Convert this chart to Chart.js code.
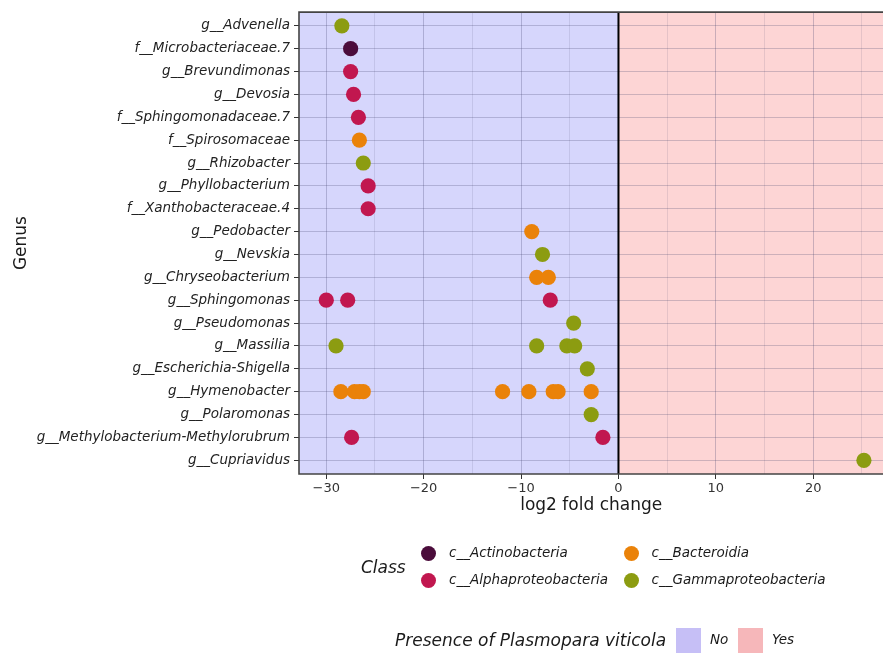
<!DOCTYPE html>
<html>
<head>
<meta charset="utf-8">
<script src="https://cdn.jsdelivr.net/npm/chart.js@4.4.1/dist/chart.umd.min.js"></script>
<style>
  html, body { margin: 0; padding: 0; background: #fff; overflow: hidden; }
  #wrap { position: relative; width: 883px; height: 653px; overflow: hidden; }
  #chart { position: absolute; left: 0; top: 0; }
  .lg { position: absolute; font-family: "DejaVu Sans", sans-serif; font-style: italic; color: #1a1a1a; white-space: nowrap; line-height: 1; }
  .dot { position: absolute; width: 15px; height: 15px; border-radius: 50%; }
  .key { position: absolute; width: 25px; height: 25px; }
</style>
</head>
<body>
<div id="wrap">
  <!-- the panel runs on past the right edge of the page -->
  <canvas id="chart" width="891" height="653"></canvas>
  <div id="legends"></div>
</div>
<script>
// Genera on the y axis, top to bottom
const genera = [
  'g__Advenella', 'f__Microbacteriaceae.7', 'g__Brevundimonas', 'g__Devosia',
  'f__Sphingomonadaceae.7', 'f__Spirosomaceae', 'g__Rhizobacter', 'g__Phyllobacterium',
  'f__Xanthobacteraceae.4', 'g__Pedobacter', 'g__Nevskia', 'g__Chryseobacterium',
  'g__Sphingomonas', 'g__Pseudomonas', 'g__Massilia', 'g__Escherichia-Shigella',
  'g__Hymenobacter', 'g__Polaromonas', 'g__Methylobacterium-Methylorubrum', 'g__Cupriavidus'
];

const classNames = ['c__Actinobacteria', 'c__Alphaproteobacteria', 'c__Bacteroidia', 'c__Gammaproteobacteria'];
const classColors = ['#4b0c3b', '#c1174f', '#ea8209', '#8c9c11'];

// Differentially abundant taxa: genus, log2 fold change, class
const pointGenus = [
  'g__Advenella', 'f__Microbacteriaceae.7', 'g__Brevundimonas', 'g__Devosia',
  'f__Sphingomonadaceae.7', 'f__Spirosomaceae', 'g__Rhizobacter', 'g__Phyllobacterium',
  'f__Xanthobacteraceae.4', 'g__Pedobacter', 'g__Nevskia',
  'g__Chryseobacterium', 'g__Chryseobacterium',
  'g__Sphingomonas', 'g__Sphingomonas', 'g__Sphingomonas',
  'g__Pseudomonas',
  'g__Massilia', 'g__Massilia', 'g__Massilia', 'g__Massilia',
  'g__Escherichia-Shigella',
  'g__Hymenobacter', 'g__Hymenobacter', 'g__Hymenobacter', 'g__Hymenobacter', 'g__Hymenobacter',
  'g__Hymenobacter', 'g__Hymenobacter', 'g__Hymenobacter', 'g__Hymenobacter',
  'g__Polaromonas',
  'g__Methylobacterium-Methylorubrum', 'g__Methylobacterium-Methylorubrum',
  'g__Cupriavidus'
];
const pointLfc = [
  -28.4, -27.5, -27.5, -27.2,
  -26.7, -26.6, -26.2, -25.7,
  -25.7, -8.9, -7.8,
  -8.4, -7.2,
  -30.0, -27.8, -7.0,
  -4.6,
  -29.0, -8.4, -5.3, -4.5,
  -3.2,
  -28.5, -27.1, -26.6, -26.2, -11.9,
  -9.2, -6.7, -6.2, -2.8,
  -2.8,
  -27.4, -1.6,
  25.2
];
const pointClass = [
  'c__Gammaproteobacteria', 'c__Actinobacteria', 'c__Alphaproteobacteria', 'c__Alphaproteobacteria',
  'c__Alphaproteobacteria', 'c__Bacteroidia', 'c__Gammaproteobacteria', 'c__Alphaproteobacteria',
  'c__Alphaproteobacteria', 'c__Bacteroidia', 'c__Gammaproteobacteria',
  'c__Bacteroidia', 'c__Bacteroidia',
  'c__Alphaproteobacteria', 'c__Alphaproteobacteria', 'c__Alphaproteobacteria',
  'c__Gammaproteobacteria',
  'c__Gammaproteobacteria', 'c__Gammaproteobacteria', 'c__Gammaproteobacteria', 'c__Gammaproteobacteria',
  'c__Gammaproteobacteria',
  'c__Bacteroidia', 'c__Bacteroidia', 'c__Bacteroidia', 'c__Bacteroidia', 'c__Bacteroidia',
  'c__Bacteroidia', 'c__Bacteroidia', 'c__Bacteroidia', 'c__Bacteroidia',
  'c__Gammaproteobacteria',
  'c__Alphaproteobacteria', 'c__Alphaproteobacteria',
  'c__Gammaproteobacteria'
];

// x axis ticks (labelled every 10, minor grid every 5)
const xTicks = [-30, -25, -20, -15, -10, -5, 0, 5, 10, 15, 20, 25];
const xMin = -32.8, xMax = 27.2;

// Shaded regions: presence of Plasmopara viticola
const presenceLabels = ['No', 'Yes'];
const presenceFill = ['rgba(176,176,250,0.52)', 'rgba(252,172,172,0.50)'];
const presenceKey = ['#c6bff6', '#f6b7ba'];

const datasets = classNames.map((cls, ci) => ({
  label: cls,
  data: pointLfc
    .map((v, i) => ({ x: v, y: genera.indexOf(pointGenus[i]) + 1, c: pointClass[i] }))
    .filter(p => p.c === cls),
  backgroundColor: classColors[ci],
  borderWidth: 0,
  pointRadius: 7.6,
  pointHoverRadius: 7.6
}));

const panelPlugin = {
  id: 'panel',
  beforeDraw(chart) {
    const { ctx, chartArea: a, scales: { x } } = chart;
    const x0 = x.getPixelForValue(0);
    ctx.save();
    ctx.fillStyle = '#ffffff';
    ctx.fillRect(a.left, a.top, a.right - a.left, a.bottom - a.top);
    ctx.fillStyle = presenceFill[0];
    ctx.fillRect(a.left, a.top, x0 - a.left, a.bottom - a.top);
    ctx.fillStyle = presenceFill[1];
    ctx.fillRect(x0, a.top, a.right - x0, a.bottom - a.top);
    ctx.restore();
  },
  afterDatasetsDraw(chart) {
    const { ctx, chartArea: a, scales: { x } } = chart;
    const x0 = x.getPixelForValue(0);
    ctx.save();
    ctx.strokeStyle = '#000';
    ctx.lineWidth = 2;
    ctx.beginPath();
    ctx.moveTo(x0, a.top);
    ctx.lineTo(x0, a.bottom);
    ctx.stroke();
    ctx.strokeStyle = '#444';
    ctx.lineWidth = 1.6;
    ctx.beginPath();
    ctx.moveTo(a.right + 2, a.top);
    ctx.lineTo(a.left, a.top);
    ctx.lineTo(a.left, a.bottom);
    ctx.lineTo(a.right + 2, a.bottom);
    ctx.stroke();
    ctx.restore();
  }
};

new Chart(document.getElementById('chart'), {
  type: 'scatter',
  data: { datasets },
  plugins: [panelPlugin],
  options: {
    responsive: false,
    animation: false,
    events: [],
    layout: { padding: { top: 10, left: 0, right: 0, bottom: 134 } },
    plugins: { legend: { display: false }, tooltip: { enabled: false } },
    scales: {
      x: {
        type: 'linear',
        min: xMin,
        max: xMax,
        afterBuildTicks(scale) { scale.ticks = xTicks.map(v => ({ value: v })); },
        afterFit(scale) { scale.height = 45; scale.paddingRight = 0; scale.paddingLeft = 0; },
        grid: {
          color: ctx => (ctx.tick && ctx.tick.value % 10 === 0) ? 'rgba(70,70,110,0.28)' : 'rgba(70,70,110,0.13)',
          lineWidth: 1,
          tickLength: 5,
          tickColor: ctx => (ctx.tick && ctx.tick.value % 10 === 0) ? '#333' : 'rgba(0,0,0,0)'
        },
        border: { display: false },
        ticks: {
          autoSkip: false,
          maxRotation: 0,
          padding: 2,
          color: '#333',
          font: { family: 'DejaVu Sans', size: 13 },
          callback: v => (v % 10 === 0 ? (v < 0 ? '\u2212' + Math.abs(v) : String(v)) : '')
        },
        title: {
          display: true,
          text: 'log2 fold change',
          color: '#1a1a1a',
          font: { family: 'DejaVu Sans', size: 17 },
          padding: { top: 0, bottom: 3 }
        }
      },
      y: {
        type: 'linear',
        reverse: true,
        min: 0.4,
        max: 20.6,
        afterBuildTicks(scale) { scale.ticks = genera.map((g, i) => ({ value: i + 1 })); },
        afterFit(scale) { scale.width = 299; },
        grid: {
          color: 'rgba(70,70,110,0.26)',
          lineWidth: 1,
          tickLength: 5,
          tickColor: '#333'
        },
        border: { display: false },
        ticks: {
          autoSkip: false,
          padding: 4,
          color: '#222',
          font: { family: 'DejaVu Sans', size: 13.5, style: 'italic' },
          callback: v => genera[v - 1] || ''
        },
        title: {
          display: true,
          text: 'Genus',
          color: '#1a1a1a',
          font: { family: 'DejaVu Sans', size: 17 },
          padding: { top: 11, bottom: 0 }
        }
      }
    }
  }
});

// Legends below the panel
const lg = document.getElementById('legends');
function addText(text, left, centerY, size) {
  const d = document.createElement('div');
  d.className = 'lg';
  d.textContent = text;
  d.style.left = left + 'px';
  d.style.top = (centerY - size / 2) + 'px';
  d.style.fontSize = size + 'px';
  lg.appendChild(d);
}
addText('Class', 361, 567, 17);
const dotPos = [[428.5, 553], [428.5, 580], [631, 553], [631, 580]];
classNames.forEach((cls, i) => {
  const [cx, cy] = dotPos[i];
  const dot = document.createElement('div');
  dot.className = 'dot';
  dot.style.left = (cx - 7.5) + 'px';
  dot.style.top = (cy - 7.5) + 'px';
  dot.style.background = classColors[i];
  lg.appendChild(dot);
  addText(cls, cx + 20.5, cy, 13.5);
});
addText('Presence of Plasmopara viticola', 395, 640, 17);
const keyLeft = [676, 738];
presenceLabels.forEach((lab, i) => {
  const k = document.createElement('div');
  k.className = 'key';
  k.style.left = keyLeft[i] + 'px';
  k.style.top = '628px';
  k.style.background = presenceKey[i];
  lg.appendChild(k);
  addText(lab, keyLeft[i] + 34, 640, 13.5);
});
</script>
</body>
</html>
